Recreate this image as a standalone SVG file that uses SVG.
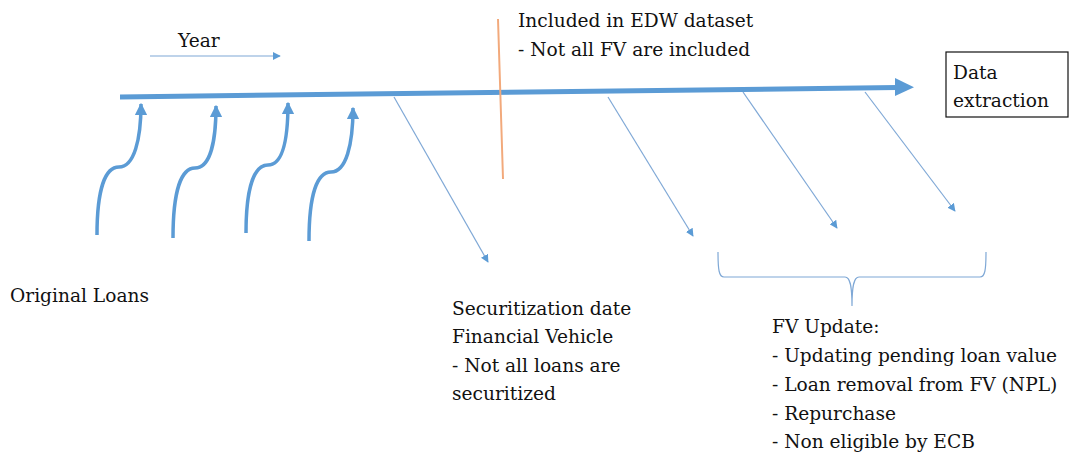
<svg xmlns="http://www.w3.org/2000/svg" width="1071" height="456" viewBox="0 0 1071 456">
<style>
text{font-family:'DejaVu Serif','Liberation Serif',serif;font-size:18.6px;fill:#111}
.thin{stroke:#7FA8D6;stroke-width:1.2;fill:none}
.curve{stroke:#5B9BD5;stroke-width:3.5;fill:none}
</style>
<defs>
<marker id="ah" viewBox="0 0 10 10" refX="9" refY="5" markerWidth="8" markerHeight="8" markerUnits="userSpaceOnUse" orient="auto"><path d="M0,0L10,5L0,10z" fill="#5B9BD5"/></marker>
<marker id="ah2" viewBox="0 0 10 10" refX="9" refY="5" markerWidth="3.6" markerHeight="3.6" orient="auto"><path d="M0,0L10,5L0,10z" fill="#5B9BD5"/></marker>
</defs>
<g id="connectors">
<path d="M120,97 L897,87.5" stroke="#5B9BD5" stroke-width="5" fill="none"/>
<path d="M895,78 L914,87.2 L895,96 z" fill="#5B9BD5"/>
<path class="thin" d="M150,56 L280,56" marker-end="url(#ah)"/>
<path class="curve" d="M97,235 C97,190 105,167 119,167 C134,167 141,140 141,104" marker-end="url(#ah2)"/>
<path class="curve" d="M173,238 C173,192 181,168 195,168 C210,168 216,142 216,106" marker-end="url(#ah2)"/>
<path class="curve" d="M246,233 C246,188 254,165 268,165 C283,165 288,138 288,103" marker-end="url(#ah2)"/>
<path class="curve" d="M309,241 C309,195 317,172 331,172 C346,172 353,145 353,108" marker-end="url(#ah2)"/>
<path class="thin" d="M394,97 L488,262" marker-end="url(#ah)"/>
<path class="thin" d="M608,97 L693,236" marker-end="url(#ah)"/>
<path class="thin" d="M743,92 L837,228" marker-end="url(#ah)"/>
<path class="thin" d="M865,92 L955,211" marker-end="url(#ah)"/>
<path d="M498,19 L503,179" stroke="#F2A97B" stroke-width="2" fill="none"/>
<path d="M718,252 C718,270 719,277 724,277 L845,277 C850,277 852,285 852,306 C852,285 854,277 859,277 L980,277 C985,277 986,270 986,252" stroke="#7FA8D6" stroke-width="1.2" fill="none"/>
</g>
<g id="year"><text x="178" y="47">Year</text></g>
<g id="edw"><text x="518" y="27">Included in EDW dataset</text><text x="518" y="56">- Not all FV are included</text></g>
<g id="data-extraction"><rect x="946" y="52" width="122" height="65" fill="#fff" stroke="#111" stroke-width="1.2"/><text x="953" y="79">Data</text><text x="953" y="107">extraction</text></g>
<g id="original-loans"><text x="10" y="302">Original Loans</text></g>
<g id="securitization"><text x="452" y="315">Securitization date</text><text x="452" y="343">Financial Vehicle</text><text x="452" y="372">- Not all loans are</text><text x="452" y="400">securitized</text></g>
<g id="fv-update"><text x="772" y="333">FV Update:</text><text x="772" y="362">- Updating pending loan value</text><text x="772" y="391">- Loan removal from FV (NPL)</text><text x="772" y="420">- Repurchase</text><text x="772" y="448">- Non eligible by ECB</text></g>
</svg>
